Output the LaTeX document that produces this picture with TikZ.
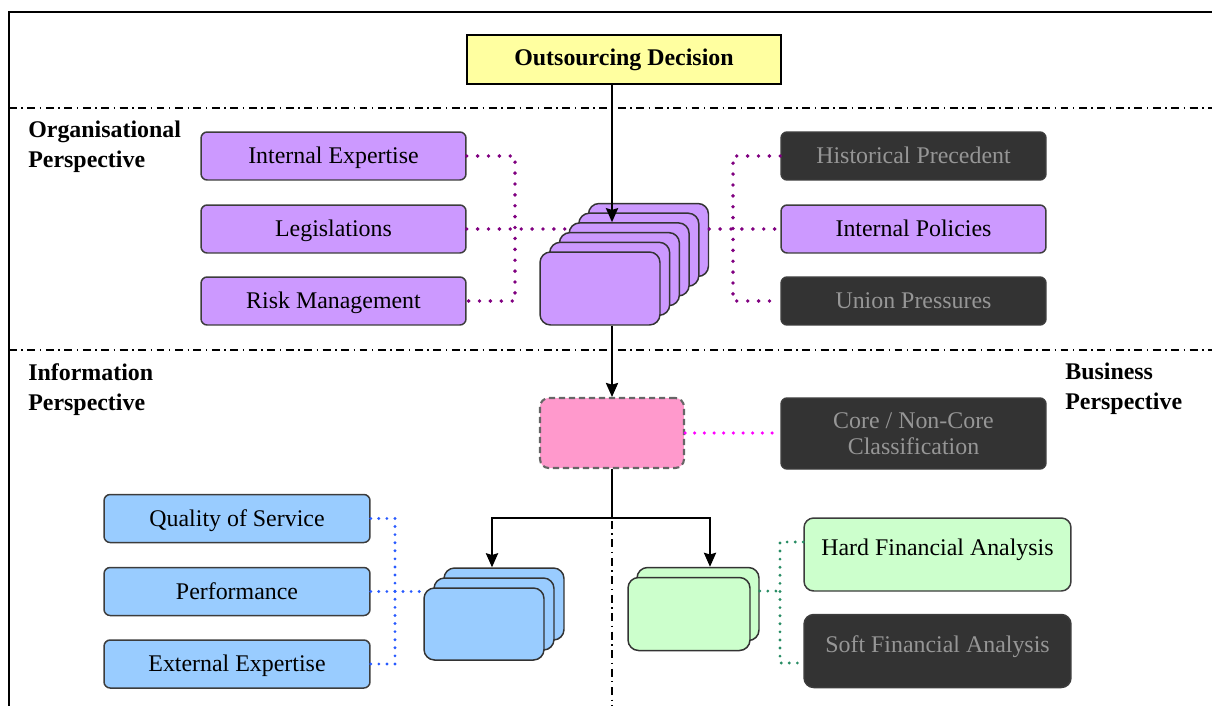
\documentclass[tikz,border=0pt]{standalone}
\usepackage{fontspec}
\setmainfont{Liberation Serif}
\usetikzlibrary{positioning,calc}
\usetikzlibrary{arrows.meta}
\definecolor{DecYellow}{RGB}{255,255,160}
\definecolor{OrgPurple}{RGB}{204,153,255}
\definecolor{InfoBlue}{RGB}{153,204,255}
\definecolor{BusGreen}{RGB}{204,255,204}
\definecolor{CorePink}{RGB}{255,153,204}
\definecolor{OffDark}{RGB}{51,51,51}
\definecolor{OffText}{RGB}{150,150,150}
\definecolor{EdgeGray}{RGB}{60,60,60}
\definecolor{DotPurple}{RGB}{128,0,128}
\definecolor{DotMagenta}{RGB}{255,0,255}
\definecolor{DotBlue}{RGB}{40,90,255}
\definecolor{DotGreen}{RGB}{40,140,100}
\tikzset{
	box/.style={draw=EdgeGray,line width=0.85pt,rounded corners=3.5pt,inner sep=2pt,
		font=\fontsize{13.6}{16}\selectfont},
	factor/.style={box,minimum width=5.3cm,minimum height=0.96cm,text height=12pt,text depth=3pt},
	orgbox/.style={factor,fill=OrgPurple},
	infobox/.style={factor,fill=InfoBlue},
	offbox/.style={factor,fill=OffDark,text=OffText},
	tallbox/.style={box,rounded corners=5.5pt,minimum width=5.34cm,minimum height=1.46cm,
		text height=12pt,text depth=0.38cm},
	layer/.style={draw=black!80,line width=0.85pt,rounded corners=6pt,inner sep=0pt},
	orglayer/.style={layer,fill=OrgPurple,minimum width=2.4cm,minimum height=1.46cm},
	infolayer/.style={layer,fill=InfoBlue,minimum width=2.4cm,minimum height=1.44cm},
	buslayer/.style={layer,fill=BusGreen,minimum width=2.44cm,minimum height=1.46cm},
	decision/.style={draw=black,line width=0.7pt,fill=DecYellow,minimum width=6.28cm,minimum height=0.98cm,
		font=\bfseries\fontsize{13.6}{16}\selectfont},
	persp/.style={align=left,anchor=north west,inner sep=0pt,font=\bfseries\fontsize{13.6}{17}\selectfont},
	outline/.style={line width=1.1pt},
	divider/.style={line width=0.7pt,dash pattern=on 4.5pt off 2.6pt on 0.8pt off 2.6pt},
	arrowline/.style={line width=0.9pt,-{Stealth[length=8pt,width=7pt,inset=1pt]}},
	dotline/.style={line width=2.2pt,line cap=round,dash pattern=on 0pt off 6.2pt},
	orgdot/.style={dotline,DotPurple},
	coredot/.style={dotline,DotMagenta,line width=2pt,dash pattern=on 0pt off 5.5pt},
	infodot/.style={dotline,DotBlue,line width=1.8pt,dash pattern=on 0pt off 4.6pt},
	busdot/.style={dotline,DotGreen,line width=1.8pt,dash pattern=on 0pt off 4.6pt},
}
\begin{document}
\begin{tikzpicture}[x=0.02cm,y=-0.02cm]
	\useasboundingbox (0,0) rectangle (1212,706);
	\draw[outline] (1212,12) -- (9,12) -- (9,706);
	\draw[divider] (9,108) -- (1212,108);
	\draw[divider] (9,350) -- (1212,350);
	\draw[divider] (612,521) -- (612,706);
	\node[persp] (orgp) at (28,121) {Organisational\\Perspective};
	\node[persp] (infp) at (28,363) {Information\\Perspective};
	\node[persp] (busp) at (1065,363) {Business\\Perspective};
	\node[decision] (dec) at (624,59.5) {Outsourcing Decision};
	\foreach \n/\y/\t in {ie/156/Internal Expertise,leg/229/Legislations,risk/301/Risk Management}
	\node[orgbox] (\n) at (333.5,\y) {\t};
	\node[offbox] (hist) at (913.5,156) {Historical Precedent};
	\node[orgbox] (pol) at (913.5,229) {Internal Policies};
	\node[offbox] (union) at (913.5,301) {Union Pressures};
	\foreach \k in {5,...,0}
	\node[orglayer] (org\k) at ({600+9.7*\k},{288.5-9.7*\k}) {};
	\node[box,draw=black!60,line width=1.2pt,dash pattern=on 3.5pt off 2.2pt,rounded corners=5pt,
		fill=CorePink,minimum width=2.88cm,minimum height=1.4cm] (cls) at (612,433) {};
	\node[box,fill=OffDark,text=OffText,minimum width=5.3cm,minimum height=1.42cm,align=center,
		font=\fontsize{13.6}{14.8}\selectfont] (ncore) at (913.5,433.5) {Core / Non-Core\\Classification};
	\foreach \n/\y/\t in {qos/518.5/Quality of Service,perf/591.5/Performance,ext/664/External Expertise}
	\node[infobox,minimum width=5.32cm] (\n) at (237,\y) {\t};
	\foreach \k in {2,1,0}
	\node[infolayer] (info\k) at ({484+10*\k},{624-10*\k}) {};
	\foreach \k in {1,0}
	\node[buslayer] (bus\k) at ({689+9*\k},{614-10*\k}) {};
	\node[tallbox,fill=BusGreen] (hard) at (937.5,554.5) {Hard Financial Analysis};
	\node[tallbox,fill=OffDark,text=OffText] (soft) at (937.5,651) {Soft Financial Analysis};
	\coordinate (lj) at (515,229);
	\coordinate (rj) at (733,229);
	\coordinate (sl) at (492,518);
	\coordinate (sr) at (710,518);
	\coordinate (ij) at (395,591.5);
	\coordinate (gj) at (780,591);
	\coordinate (gt) at (780,542);
	\coordinate (gb) at (780,663);
	\draw[orgdot] (ie.east) -| (lj) |- (risk.east);
	\draw[orgdot] (leg.east) -- (leg.east -| org3.west);
	\draw[orgdot] (hist.west) -| (rj) |- (union.west);
	\draw[orgdot] (pol.west -| org5.east) -- (pol.west);
	\draw[arrowline] (dec.south -| cls.north) -- (cls.north |- org3.north);
	\draw[arrowline] (org0.south -| cls.north) -- (cls.north);
	\draw[coredot] (cls.east) -- (cls.east -| ncore.west);
	\draw[line width=0.9pt] (cls.south) -- (cls.south |- sl);
	\draw[arrowline] (cls.south |- sl) -| (info2.north -| sl);
	\draw[arrowline] (cls.south |- sr) -| (bus1.north -| sr);
	\draw[infodot] (qos.east) -| (ij) |- (ext.east);
	\draw[infodot] (perf.east) -- (perf.east -| info0.west);
	\draw[busdot] (gt -| hard.west) -- (gt) -- (gb) -- (gb -| soft.west);
	\draw[busdot] (gj -| bus1.east) -- (gj);
\end{tikzpicture}
\end{document}
